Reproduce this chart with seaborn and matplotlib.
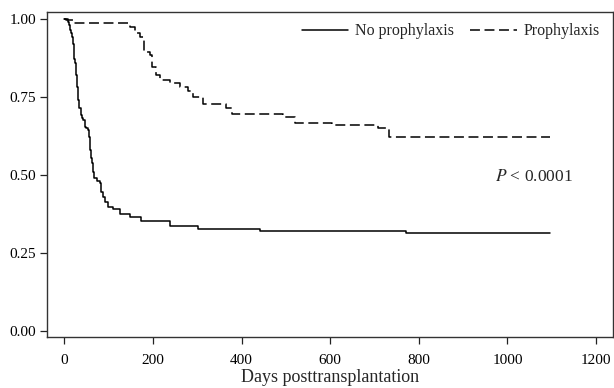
import matplotlib
matplotlib.use("Agg")
import matplotlib.pyplot as plt
import seaborn as sns
import pandas as pd

# survival curves (day, survival after step)
days_none = [0, 9, 11, 13, 15, 17, 19, 21, 23, 24, 26, 28, 30, 32, 34, 37, 40, 43, 47,
             50, 54, 56, 57, 59, 61, 62, 65, 68, 73, 81, 84, 88, 92, 99, 110,
             126, 148, 173, 239, 302, 442, 771, 1096]
surv_none = [1.00, 0.99, 0.98, 0.965, 0.954, 0.942, 0.92, 0.895, 0.87, 0.857, 0.82,
             0.782, 0.76, 0.739, 0.715, 0.69, 0.68, 0.675, 0.654, 0.648, 0.643, 0.62,
             0.606, 0.58, 0.555, 0.537, 0.51, 0.49, 0.48, 0.473, 0.445, 0.43, 0.413,
             0.397, 0.39, 0.374, 0.364, 0.352, 0.335, 0.326, 0.319, 0.312, 0.312]

days_proph = [0, 5, 20, 148, 160, 171, 180, 193, 199, 208, 216, 239, 261, 280, 291,
              314, 366, 378, 494, 521, 603, 708, 733, 1096]
surv_proph = [1.00, 0.994, 0.987, 0.974, 0.955, 0.942, 0.894, 0.884, 0.846, 0.82,
              0.804, 0.793, 0.782, 0.768, 0.75, 0.727, 0.713, 0.694, 0.686, 0.665,
              0.66, 0.649, 0.62, 0.62]

groups = ["No prophylaxis", "Prophylaxis"]
x_ticks = [0, 200, 400, 600, 800, 1000, 1200]
y_ticks = [0.00, 0.25, 0.50, 0.75, 1.00]

df = pd.concat([
    pd.DataFrame({"day": days_none, "surv": surv_none, "group": groups[0]}),
    pd.DataFrame({"day": days_proph, "surv": surv_proph, "group": groups[1]}),
])

sns.set_style("ticks")
plt.rcParams["font.family"] = ["Liberation Serif", "DejaVu Serif"]
plt.rcParams["mathtext.fontset"] = "stix"

fig = plt.figure(figsize=(6.14, 3.88), dpi=100)
ax = fig.add_axes([0.0765, 0.1314, 0.9218, 0.8376])

sns.lineplot(data=df, x="day", y="surv", hue="group", style="group",
             palette={groups[0]: "black", groups[1]: "black"},
             dashes={groups[0]: "", groups[1]: (6.5, 3)},
             estimator=None, drawstyle="steps-post", linewidth=1.1, ax=ax)

ax.set_xlim(-39, 1238)
ax.set_ylim(-0.02, 1.021)
ax.set_xticks(x_ticks)
ax.set_yticks(y_ticks)
ax.set_yticklabels([f"{v:.2f}" for v in y_ticks])
ax.tick_params(labelsize=11, length=5, width=0.9, pad=3,
               colors="#222222", labelcolor="black")
ax.tick_params(axis="x", pad=7)
for s in ax.spines.values():
    s.set_visible(True)
    s.set_color("#333333")
    s.set_linewidth(1.0)

ax.set_xlabel("Days posttransplantation", fontsize=13, labelpad=2)
ax.set_ylabel("")

ax.legend(loc="upper right", ncol=2, frameon=False, fontsize=11.5,
          handlelength=2.9, columnspacing=1.0, handletextpad=0.45,
          borderaxespad=0.3, bbox_to_anchor=(0.997, 1.0))

ax.text(972, 0.493, "$P$ < 0.0001", fontsize=12.5, va="center", ha="left")

fig.savefig("out.png", dpi=100)
